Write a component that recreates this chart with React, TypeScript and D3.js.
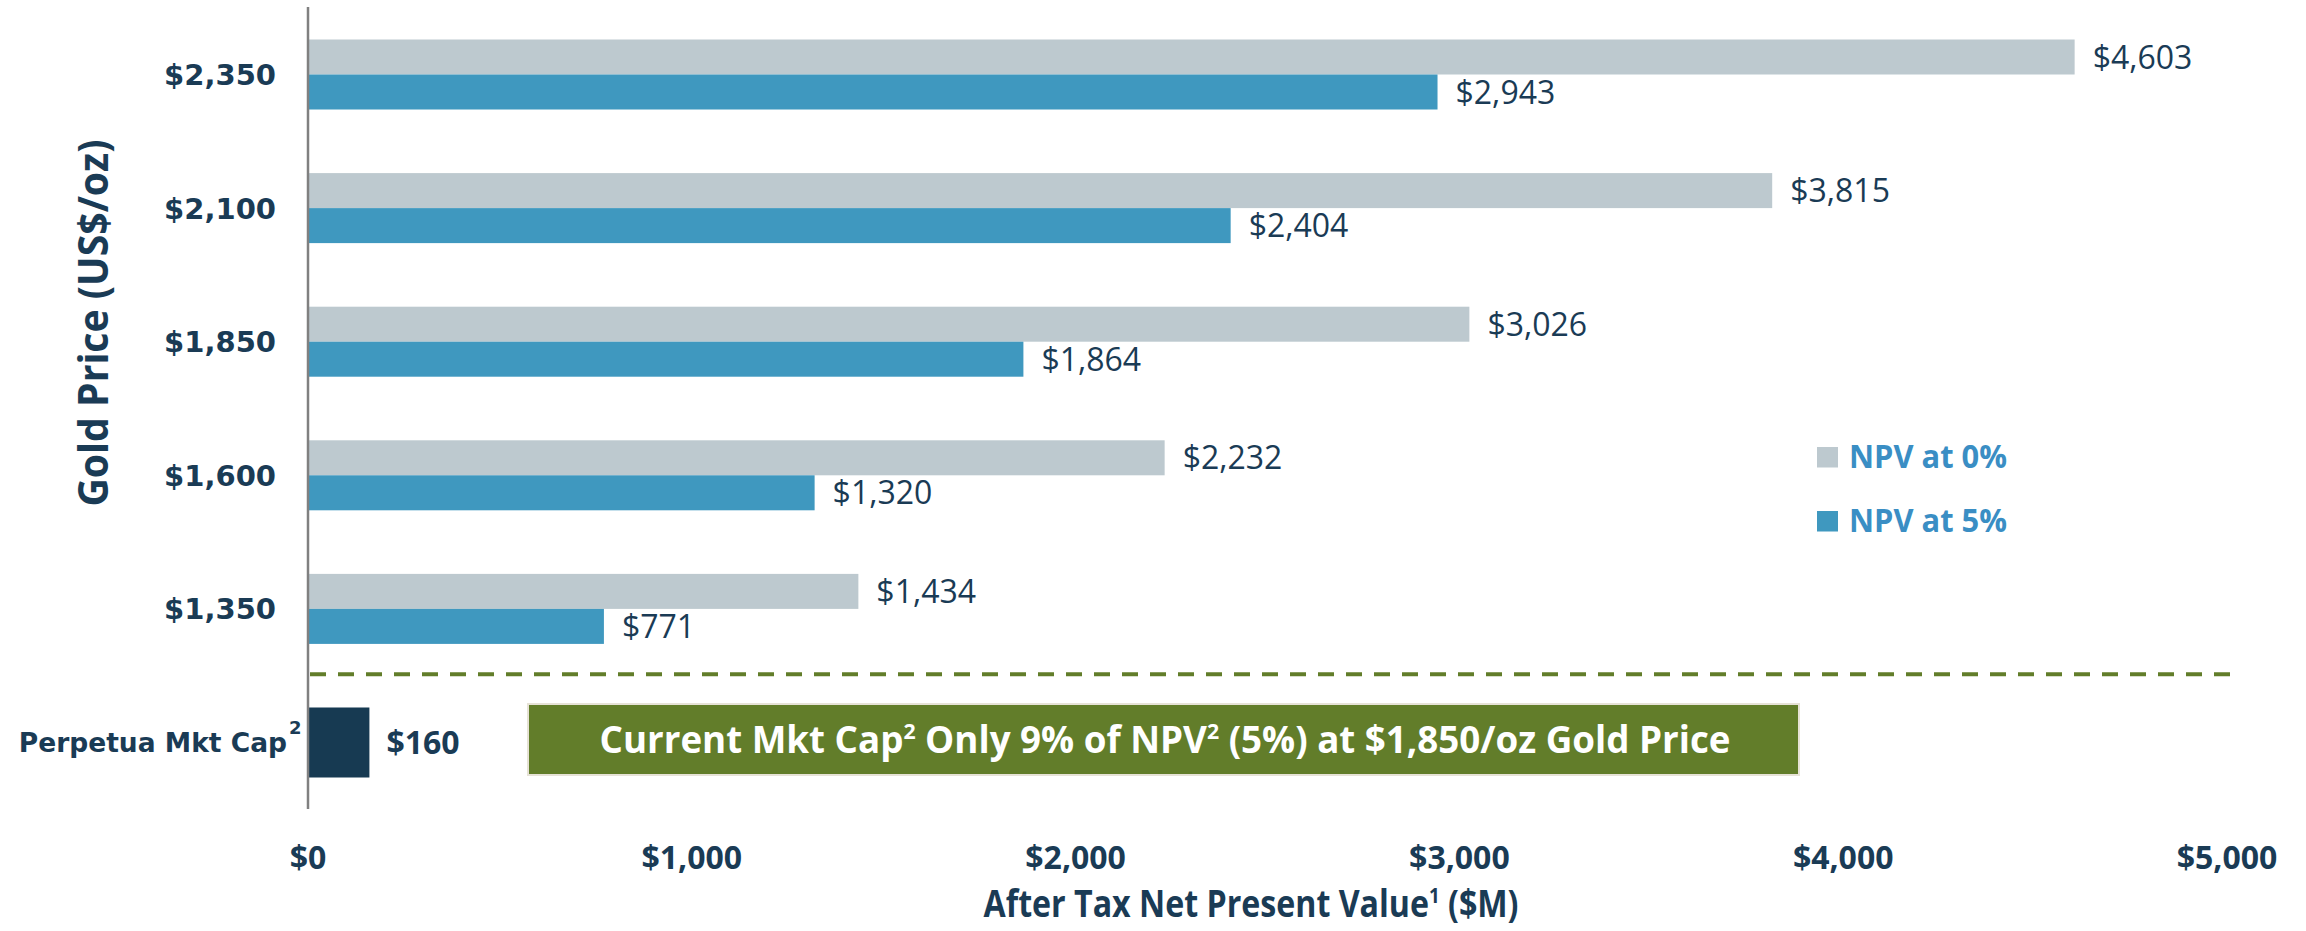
import React from "react";
import * as d3 from "d3";

const categories = ["$2,350", "$2,100", "$1,850", "$1,600", "$1,350"];
const npv0 = [4603, 3815, 3026, 2232, 1434];
const npv5 = [2943, 2404, 1864, 1320, 771];
const mktCapLabel = "Perpetua Mkt Cap";
const mktCap = 160;
const xTicks = [0, 1000, 2000, 3000, 4000, 5000];
const seriesNames = ["NPV at 0%", "NPV at 5%"];

const W = 2306;
const H = 931;
const NAVY = "#1A3B55";
const GRAY = "#BDC9CF";
const BLUE = "#3F98BF";
const DARK = "#173A52";
const GREEN = "#627D2A";
const LEG = "#3A8EC4";

const fmt = (v: number) => "$" + d3.format(",")(v);

export default function App() {
  const x = d3.scaleLinear().domain([0, 5000]).range([308, 2227]);
  const allCats = [...categories, mktCapLabel];
  const y = d3
    .scaleBand<string>()
    .domain(allCats)
    .range([39.5, 777.5])
    .paddingInner(0.476)
    .paddingOuter(0);
  const sub = d3
    .scaleBand<string>()
    .domain(["npv0", "npv5"])
    .range([0, y.bandwidth()]);
  const lastY = (y(categories[categories.length - 1]) as number) + y.bandwidth();
  const perpY = y(mktCapLabel) as number;
  const dashY = (lastY + perpY) / 2 - 1.5;

  const font = "'Open Sans', sans-serif";

  return (
    <svg
      width={W}
      height={H}
      style={{ position: "absolute", left: 0, top: 0, display: "block", background: "#fff" }}
    >
      {/* bars */}
      {categories.map((c, i) => {
        const y0 = y(c) as number;
        const yg = y0 + (sub("npv0") as number);
        const yb = y0 + (sub("npv5") as number);
        const bh = sub.bandwidth();
        return (
          <g key={c}>
            <rect x={x(0)} y={yg} width={x(npv0[i]) - x(0)} height={bh} fill={GRAY} />
            <rect x={x(0)} y={yb} width={x(npv5[i]) - x(0)} height={bh} fill={BLUE} />
            <text
              x={x(npv0[i]) + 18}
              y={yg + bh / 2}
              dy="0.36em"
              fontFamily={font}
              fontSize={32}
              fill={NAVY}
            >
              {fmt(npv0[i])}
            </text>
            <text
              x={x(npv5[i]) + 18}
              y={yb + bh / 2}
              dy="0.36em"
              fontFamily={font}
              fontSize={32}
              fill={NAVY}
            >
              {fmt(npv5[i])}
            </text>
            <text
              x={276}
              y={y0 + y.bandwidth() / 2}
              dy="0.36em"
              textAnchor="end"
              fontFamily="'DejaVu Sans', sans-serif"
              fontWeight="bold"
              fontSize={29}
              fill={NAVY}
            >
              {c}
            </text>
          </g>
        );
      })}

      {/* market cap bar */}
      <rect x={x(0)} y={perpY} width={x(mktCap) - x(0)} height={y.bandwidth()} fill={DARK} />
      <text
        x={x(mktCap) + 17}
        y={perpY + y.bandwidth() / 2}
        dy="0.36em"
        fontFamily={font}
        fontWeight="bold"
        fontSize={32}
        fill={NAVY}
      >
        {fmt(mktCap)}
      </text>
      <text
        x={287}
        y={perpY + y.bandwidth() / 2}
        dy="0.36em"
        textAnchor="end"
        fontFamily="'DejaVu Sans', sans-serif"
        fontWeight="bold"
        fontSize={26.5}
        fill={NAVY}
      >
        {mktCapLabel}
      </text>
      <text
        x={289}
        y={perpY + y.bandwidth() / 2 - 8}
        fontFamily="'DejaVu Sans', sans-serif"
        fontWeight="bold"
        fontSize={18}
        fill={NAVY}
      >
        2
      </text>

      {/* dashed separator */}
      <line
        x1={x(0) + 2}
        x2={x(5000) + 6}
        y1={dashY}
        y2={dashY}
        stroke={GREEN}
        strokeWidth={4}
        strokeDasharray="16 12"
      />

      {/* annotation box */}
      <rect x={528} y={704} width={1271} height={71} fill={GREEN} stroke="#E6E2D6" strokeWidth={2} />
      <text
        x={1165}
        y={739.5}
        dy="0.36em"
        textAnchor="middle"
        fontFamily={font}
        fontWeight="bold"
        fontSize={38}
        fill="#fff"
        textLength={1131}
        lengthAdjust="spacingAndGlyphs"
      >
        Current Mkt Cap
        <tspan fontSize={22} dy={-14}>2</tspan>
        <tspan dy={14}>{"  Only 9% of NPV"}</tspan>
        <tspan fontSize={22} dy={-14}>2</tspan>
        <tspan dy={14}>{"  (5%) at $1,850/oz Gold Price"}</tspan>
      </text>

      {/* y axis line */}
      <line x1={x(0)} x2={x(0)} y1={7} y2={809} stroke="#808080" strokeWidth={2.5} />

      {/* x ticks */}
      {xTicks.map((t) => (
        <text
          key={t}
          x={x(t)}
          y={857}
          dy="0.36em"
          textAnchor="middle"
          fontFamily={font}
          fontWeight="bold"
          fontSize={32}
          fill={NAVY}
        >
          {fmt(t)}
        </text>
      ))}

      {/* x title */}
      <text
        x={1251}
        y={903}
        dy="0.36em"
        textAnchor="middle"
        fontFamily={font}
        fontWeight="bold"
        fontSize={38}
        fill={NAVY}
        textLength={535}
        lengthAdjust="spacingAndGlyphs"
      >
        After Tax Net Present Value
        <tspan fontSize={22} dy={-14}>1</tspan>
        <tspan dy={14}>{"  ($M)"}</tspan>
      </text>

      {/* y title */}
      <text
        transform={`translate(93,323) rotate(-90)`}
        dy="0.36em"
        textAnchor="middle"
        fontFamily={font}
        fontWeight="bold"
        fontSize={42}
        fill={NAVY}
        textLength={367}
        lengthAdjust="spacingAndGlyphs"
      >
        Gold Price (US$/oz)
      </text>

      {/* legend */}
      {seriesNames.map((s, i) => (
        <g key={s} transform={`translate(1817, ${447 + i * 64})`}>
          <rect x={0} y={0} width={21} height={20.5} fill={i === 0 ? GRAY : BLUE} />
          <text
            x={32}
            y={20.5}
            fontFamily={font}
            fontWeight="bold"
            fontSize={32}
            fill={LEG}
            textLength={158}
            lengthAdjust="spacingAndGlyphs"
          >
            {s}
          </text>
        </g>
      ))}
    </svg>
  );
}
